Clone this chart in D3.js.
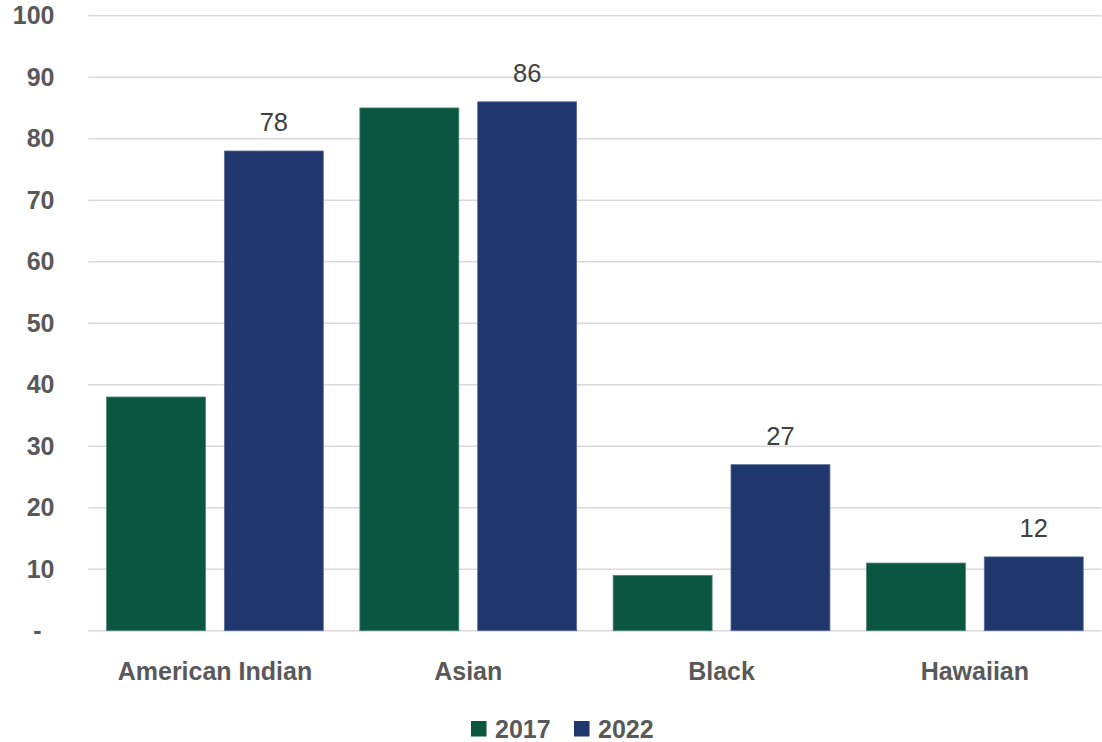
<!DOCTYPE html>
<html>
<head>
<meta charset="utf-8">
<script src="https://cdn.jsdelivr.net/npm/d3@7"></script>
<style>
  html, body { margin: 0; padding: 0; background: #fff; }
  svg { display: block; }
</style>
</head>
<body>
<svg id="chart" width="1102" height="742"></svg>
<script>
const categories = ["American Indian", "Asian", "Black", "Hawaiian"];
const seriesNames = ["2017", "2022"];
const values2017 = [38, 85, 9, 11];
const values2022 = [78, 86, 27, 12];
const tickValues = [0, 10, 20, 30, 40, 50, 60, 70, 80, 90, 100];
const tickLabels = ["-", "10", "20", "30", "40", "50", "60", "70", "80", "90", "100"];
const labelSeries = ["2022"];

const colors = { "2017": "#0B5640", "2022": "#1F376D" };
const strokes = { "2017": "#4F8677", "2022": "#5B6E9A" };

const svg = d3.select("#chart");
const font = "'Liberation Sans', Arial, sans-serif";

const plotLeft = 88.3, plotRight = 1101.5, plotTop = 15.7, plotBottom = 630.7;

const x0 = d3.scaleBand().domain(categories).range([plotLeft, plotRight]).padding(0);
const x1 = d3.scaleBand().domain(seriesNames).range([0, x0.bandwidth()])
  .paddingInner(0.16).paddingOuter(0.155);
const y = d3.scaleLinear().domain([0, 100]).range([plotBottom, plotTop]);

// gridlines
svg.append("g").selectAll("line").data(tickValues).join("line")
  .attr("x1", plotLeft).attr("x2", plotRight)
  .attr("y1", d => y(d)).attr("y2", d => y(d))
  .attr("stroke", "#d9d9d9").attr("stroke-width", 1.5);

// y axis labels
const yAxis = d3.axisLeft(y).tickValues(tickValues)
  .tickFormat((d, i) => tickLabels[i]).tickSize(0).tickPadding(0);
const yg = svg.append("g").attr("transform", `translate(54.5,0)`).call(yAxis);
yg.select(".domain").remove();
yg.selectAll("text")
  .attr("font-family", font).attr("font-size", 25).attr("font-weight", "bold")
  .attr("fill", "#595959")
  .attr("dx", (d) => d === 0 ? -13 : 0);

// bars
const data = seriesNames.map(s => ({ name: s, values: s === "2017" ? values2017 : values2022 }));
const groups = svg.append("g").selectAll("g").data(data).join("g");
groups.selectAll("rect").data(s => s.values.map((v, i) => ({ s: s.name, cat: categories[i], v })))
  .join("rect")
  .attr("x", d => x0(d.cat) + x1(d.s))
  .attr("width", x1.bandwidth())
  .attr("y", d => y(d.v))
  .attr("height", d => y(0) - y(d.v))
  .attr("fill", d => colors[d.s])
  .attr("stroke", d => strokes[d.s]).attr("stroke-width", 0.8);

// data labels
svg.append("g").selectAll("text")
  .data(data.filter(s => labelSeries.includes(s.name))
    .flatMap(s => s.values.map((v, i) => ({ s: s.name, cat: categories[i], v }))))
  .join("text")
  .attr("x", d => x0(d.cat) + x1(d.s) + x1.bandwidth() / 2)
  .attr("y", d => y(d.v) - 20)
  .attr("text-anchor", "middle")
  .attr("font-family", font).attr("font-size", 25.5)
  .attr("fill", "#404040")
  .text(d => d.v);

// x axis labels
const xAxis = d3.axisBottom(x0).tickSize(0).tickPadding(0);
const xg = svg.append("g").call(xAxis);
xg.select(".domain").remove();
xg.selectAll("text")
  .attr("y", 679.5).attr("dy", null)
  .attr("font-family", font).attr("font-size", 25).attr("font-weight", "bold")
  .attr("fill", "#595959");

// legend
const legendX = [471, 574];
const li = svg.append("g").selectAll("g").data(seriesNames).join("g")
  .attr("transform", (d, i) => `translate(${legendX[i]},721)`);
li.append("rect").attr("width", 15.5).attr("height", 15.5).attr("fill", d => colors[d]);
li.append("text").attr("x", 24).attr("y", 17)
  .attr("font-family", font).attr("font-size", 25).attr("font-weight", "bold")
  .attr("fill", "#595959").text(d => d);
</script>
</body>
</html>
